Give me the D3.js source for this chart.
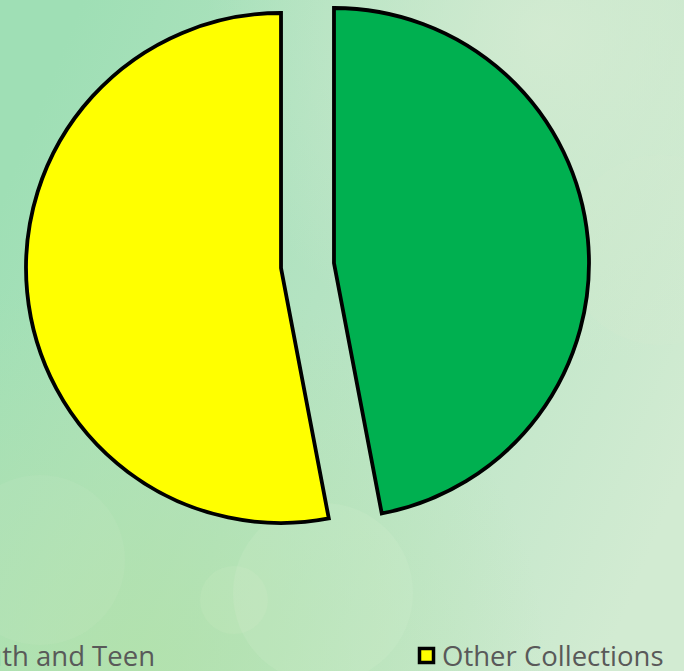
<!DOCTYPE html>
<html>
<head>
<meta charset="utf-8">
<script src="https://cdn.jsdelivr.net/npm/d3@7"></script>
<style>
  html, body { margin: 0; padding: 0; overflow: hidden; }
  svg { display: block; }
</style>
</head>
<body>
<svg id="chart"></svg>
<script>
const categories = ["Youth and Teen", "Other Collections"];
const values = [47, 53];
const colors = ["#00B050", "#FFFF00"];

const width = 684, height = 671;
const cx = 307.5, cy = 265.5, radius = 255, explode = 26.6;

const svg = d3.select("#chart").attr("width", width).attr("height", height);
const defs = svg.append("defs");

// background: soft green gradient with bokeh blobs
const bg = defs.append("linearGradient").attr("id", "bg")
  .attr("x1", 0).attr("y1", 0.3).attr("x2", 1).attr("y2", 0.7);
bg.append("stop").attr("offset", 0).attr("stop-color", "#9fdfb5");
bg.append("stop").attr("offset", 0.45).attr("stop-color", "#b4e3c2");
bg.append("stop").attr("offset", 1).attr("stop-color", "#d2ebd2");

const warm = defs.append("radialGradient").attr("id", "warm")
  .attr("cx", 0.2).attr("cy", 1).attr("r", 0.6);
warm.append("stop").attr("offset", 0).attr("stop-color", "#b2e1a8").attr("stop-opacity", 0.8);
warm.append("stop").attr("offset", 1).attr("stop-color", "#b2e1a8").attr("stop-opacity", 0);

const glow = defs.append("radialGradient").attr("id", "glow")
  .attr("cx", 0.8).attr("cy", 0.05).attr("r", 0.5);
glow.append("stop").attr("offset", 0).attr("stop-color", "#d8ecd4").attr("stop-opacity", 0.8);
glow.append("stop").attr("offset", 1).attr("stop-color", "#d8ecd4").attr("stop-opacity", 0);

svg.append("rect").attr("width", width).attr("height", height).attr("fill", "url(#bg)");
svg.append("rect").attr("width", width).attr("height", height).attr("fill", "url(#warm)");
svg.append("rect").attr("width", width).attr("height", height).attr("fill", "url(#glow)");

const bokeh = [
  { x: 40, y: 560, r: 85, o: 0.07 },
  { x: 323, y: 593, r: 90, o: 0.12 },
  { x: 234, y: 600, r: 34, o: 0.1 },
  { x: 660, y: 250, r: 95, o: 0.06 }
];
svg.append("g").selectAll("circle")
  .data(bokeh)
  .join("circle")
  .attr("cx", d => d.x)
  .attr("cy", d => d.y)
  .attr("r", d => d.r)
  .attr("fill", "#eaf6dc")
  .attr("opacity", d => d.o);

// pie
const pie = d3.pie().sort(null).value(d => d.value);
const arc = d3.arc().innerRadius(0).outerRadius(radius);
const slices = pie(categories.map((c, i) => ({ name: c, value: values[i], color: colors[i] })));

svg.append("g")
  .attr("transform", `translate(${cx},${cy})`)
  .selectAll("path")
  .data(slices)
  .join("path")
  .attr("transform", d => {
    const mid = (d.startAngle + d.endAngle) / 2;
    return `translate(${Math.sin(mid) * explode},${-Math.cos(mid) * explode})`;
  })
  .attr("d", arc)
  .attr("fill", d => d.data.color)
  .attr("stroke", "#000")
  .attr("stroke-width", 3.8)
  .attr("stroke-linejoin", "miter");

// legend (first entry runs off the left edge, as in the original)
const legend = svg.append("g")
  .attr("font-family", "'Open Sans', sans-serif")
  .attr("font-size", 27.5)
  .attr("fill", "#595959");

const item2 = legend.append("g");
item2.append("rect")
  .attr("x", 419.5).attr("y", 648.5).attr("width", 14).attr("height", 14)
  .attr("fill", colors[1]).attr("stroke", "#000").attr("stroke-width", 3.5);
item2.append("text").attr("x", 442).attr("y", 666).text(categories[1]);

const item1 = legend.append("g");
const t1 = item1.append("text")
  .attr("x", 155).attr("y", 666).attr("text-anchor", "end")
  .text(categories[0]);
const w1 = t1.node().getComputedTextLength();
item1.append("rect")
  .attr("x", 155 - w1 - 22.5).attr("y", 648.5).attr("width", 14).attr("height", 14)
  .attr("fill", colors[0]).attr("stroke", "#000").attr("stroke-width", 3.5);
</script>
</body>
</html>
